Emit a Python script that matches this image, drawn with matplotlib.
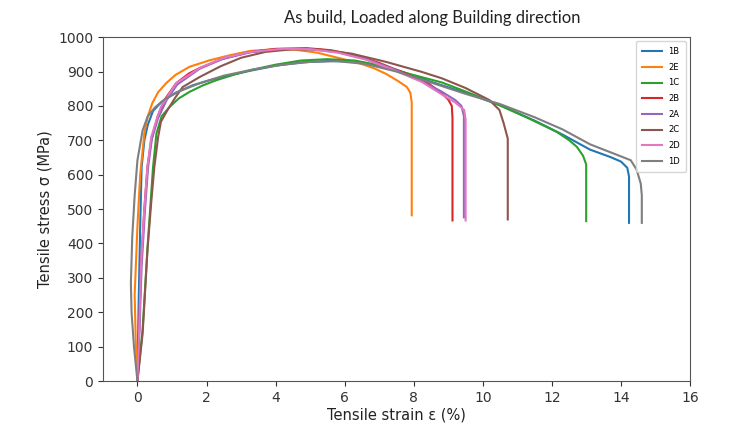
import matplotlib
matplotlib.use("Agg")
import matplotlib.pyplot as plt

# strain (%) / stress (MPa), one pair of lists per specimen
labels = ['1B', '2E', '1C', '2B', '2A', '2C', '2D', '1D']

strain_1B = [0, 0.03, 0.08, 0.12, 0.2, 0.3, 0.45, 0.7, 1.1, 1.6, 2.1, 2.7, 3.3, 4.0, 4.8,
             5.6, 6.5, 7.5, 8.5, 9.5, 10.5, 11.5, 12.3, 13.1, 13.7, 14.0, 14.18, 14.23, 14.23]
stress_1B = [0, 200, 450, 620, 700, 745, 785, 812, 838, 860, 875, 890, 903, 917, 927,
             931, 927, 905, 870, 838, 802, 757, 717, 673, 651, 638, 620, 595, 460]

strain_2E = [0, -0.05, -0.08, 0.0, 0.08, 0.2, 0.3, 0.43, 0.6, 0.83, 1.1, 1.51, 2.1, 2.7,
             3.27, 4.0, 4.6, 5.2, 5.8, 6.4, 6.86, 7.2, 7.55, 7.8, 7.9, 7.94, 7.94]
stress_2E = [0, 120, 250, 450, 600, 720, 770, 808, 840, 866, 890, 914, 933, 948,
             960, 965, 963, 955, 940, 925, 909, 893, 872, 855, 838, 810, 482]

strain_1C = [0, 0.15, 0.3, 0.45, 0.55, 0.7, 0.93, 1.2, 1.51, 1.9, 2.29, 2.8, 3.27, 4.0,
             4.73, 5.5, 6.3, 7.0, 7.8, 8.82, 9.6, 10.48, 11.3, 12.13, 12.5, 12.72, 12.9,
             12.99, 12.99]
stress_1C = [0, 150, 400, 620, 720, 770, 797, 822, 841, 860, 875, 891, 904, 920,
             932, 936, 932, 918, 895, 868, 838, 802, 765, 725, 700, 681, 655, 630, 465]

strain_2B = [0, 0.05, 0.1, 0.2, 0.29, 0.4, 0.58, 0.8, 1.12, 1.5, 1.8, 2.4, 3.27, 4.0,
             4.9, 5.6, 6.3, 7.0, 7.7, 8.43, 8.82, 9.0, 9.1, 9.12, 9.12]
stress_2B = [0, 150, 330, 500, 623, 700, 768, 820, 866, 895, 910, 935, 957, 966,
             968, 962, 948, 925, 897, 865, 836, 818, 800, 765, 467]

strain_2A = [0, 0.06, 0.12, 0.22, 0.31, 0.42, 0.6, 0.85, 1.15, 1.8, 2.5, 3.27, 4.2, 5.0,
             5.8, 6.6, 7.4, 8.2, 8.8, 9.2, 9.38, 9.45, 9.45]
stress_2A = [0, 150, 330, 500, 623, 705, 765, 818, 862, 908, 938, 956, 965, 965,
             956, 937, 908, 873, 842, 817, 800, 770, 476]

strain_2C = [0, 0.15, 0.29, 0.4, 0.49, 0.6, 0.68, 0.87, 1.1, 1.31, 1.8, 2.4, 3.0, 3.7,
             4.5, 5.3, 6.2, 7.2, 8.23, 8.82, 9.5, 10.19, 10.48, 10.6, 10.72, 10.72]
stress_2C = [0, 138, 380, 520, 623, 710, 754, 788, 825, 855, 884, 915, 940, 957,
             965, 964, 952, 928, 899, 880, 852, 817, 788, 750, 705, 470]

strain_2D = [0, 0.05, 0.1, 0.2, 0.29, 0.4, 0.58, 0.68, 1.12, 1.8, 2.5, 3.27, 4.2, 5.0,
             5.8, 6.6, 7.4, 8.23, 8.82, 9.2, 9.46, 9.5, 9.5]
stress_2D = [0, 150, 332, 500, 623, 710, 768, 797, 866, 910, 940, 957, 966, 965,
             955, 935, 905, 870, 833, 810, 788, 760, 467]

strain_1D = [0, -0.1, -0.17, -0.19, -0.15, -0.08, 0, 0.15, 0.3, 0.5, 0.8, 1.2, 1.8, 2.5,
             3.3, 4.2, 5.0, 5.8, 6.6, 7.5, 8.5, 9.5, 10.48, 11.5, 12.3, 13.11, 13.8,
             14.28, 14.45, 14.57, 14.6, 14.6]
stress_1D = [0, 100, 200, 284, 420, 540, 642, 729, 770, 795, 820, 842, 866, 888,
             905, 920, 928, 930, 922, 900, 868, 835, 806, 767, 732, 688, 661,
             642, 615, 574, 540, 460]

strains = [strain_1B, strain_2E, strain_1C, strain_2B, strain_2A, strain_2C, strain_2D, strain_1D]
stresses = [stress_1B, stress_2E, stress_1C, stress_2B, stress_2A, stress_2C, stress_2D, stress_1D]

fig = plt.figure(figsize=(7.51, 4.32), dpi=100)
ax = fig.add_axes([0.137, 0.118, 0.782, 0.796])

for i in range(len(labels)):
    ax.plot(strains[i], stresses[i], color='C%d' % i, lw=1.5, label=labels[i])

ax.set_xlim(-1, 16)
ax.set_ylim(0, 1000)
ax.set_xticks(range(0, 17, 2))
ax.set_yticks(range(0, 1001, 100))
ax.tick_params(labelsize=10, colors='#333333')
for s in ax.spines.values():
    s.set_color('#555555')
ax.set_xlabel('Tensile strain ε (%)', fontsize=10.5, color='#222222', labelpad=2)
ax.set_ylabel('Tensile stress σ (MPa)', fontsize=10.5, color='#222222', labelpad=4)
ax.legend(loc='upper right', fontsize=6, handlelength=2.4, labelspacing=0.8,
          borderpad=0.7, frameon=True)

fig.text(0.575, 0.958, 'As build, Loaded along Building direction', ha='center', va='center',
         fontsize=12, family='Lato', color='#222222',
         bbox=dict(facecolor='white', edgecolor='none', pad=6))

fig.savefig('out.png', dpi=100)
